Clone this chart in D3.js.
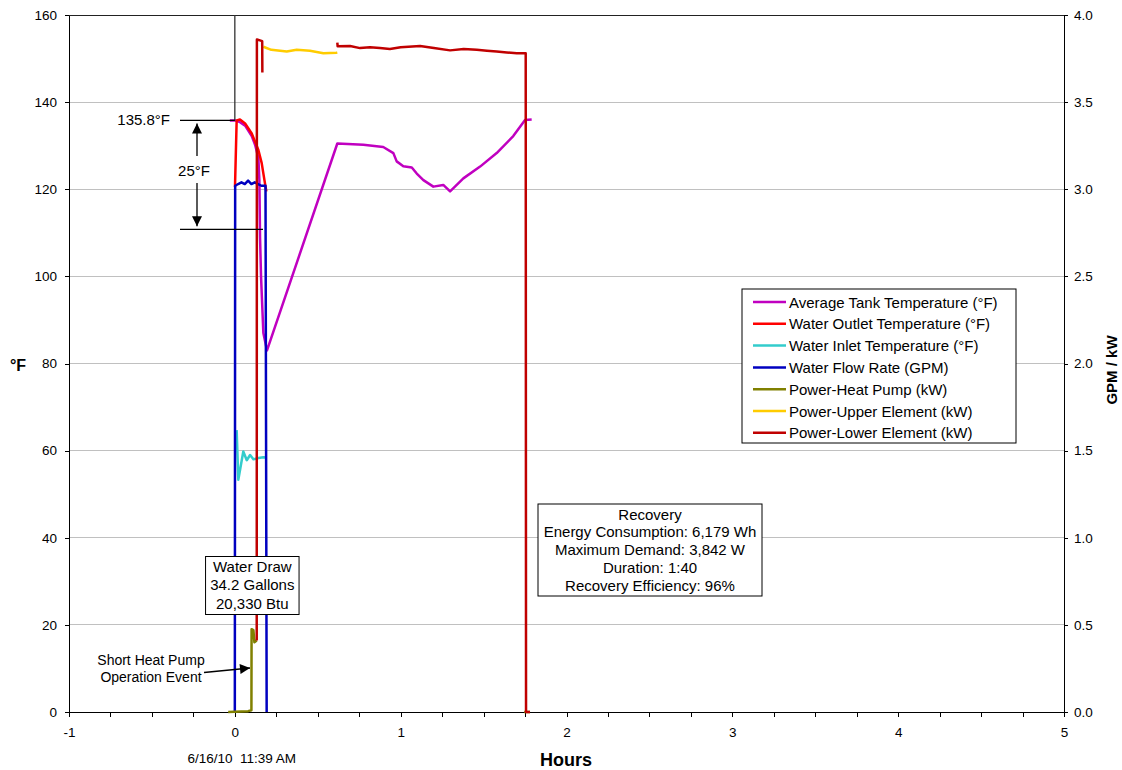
<!DOCTYPE html>
<html>
<head>
<meta charset="utf-8">
<script src="https://cdn.jsdelivr.net/npm/d3@7"></script>
<style>
body { margin: 0; background: #fff; }
svg text { font-family: Arial, "Liberation Sans", sans-serif; fill: #000; }
</style>
</head>
<body>
<div class="chart"></div>
<script>
// values: [hours, value], null = gap in the series
var avgTankTemp = [[-0.03,135.8],[0,135.8],[0.031,135.4],[0.062,134.6],[0.102,132.2],[0.122,130.2],[0.142,127.2],[0.148,122],[0.152,109],[0.158,100],[0.172,87],[0.194,83.0],
    [0.618,130.5],[0.775,130.2],[0.895,129.7],[0.956,128.3],[0.976,126.4],[1.016,125.3],[1.067,125.0],[1.097,123.6],[1.137,122.1],[1.197,120.6],[1.257,121.0],[1.298,119.5],
    [1.378,122.5],[1.479,125.2],[1.579,128.3],[1.679,132.2],[1.75,135.9],[1.79,136.0]];
var outletTemp = [[0.001,120.5],[0.011,135.8],[0.031,136.0],[0.062,135.1],[0.102,132.8],[0.142,129.0],[0.162,126.0],[0.178,122.2],[0.19,119.5]];
var inletTemp = [[0.011,64.7],[0.021,53.3],[0.051,59.8],[0.072,57.8],[0.092,59.0],[0.112,58.0],[0.142,58.3],[0.172,58.5],[0.188,58.4]];
var flowRate = [[0,0],[0.002,3.02],[0.02,3.03],[0.04,3.04],[0.06,3.03],[0.08,3.05],[0.10,3.03],[0.12,3.04],[0.14,3.03],[0.16,3.02],[0.185,3.02],[0.192,0]];
var heatPump = [[-0.04,0],[0.08,0.005],[0.1,0.01],[0.101,0.475],[0.112,0.47],[0.118,0.40],[0.132,0.41],null,[1.745,0],[1.78,0]];
var upperElement = [[0.172,3.818],[0.22,3.80],[0.313,3.79],[0.373,3.80],[0.453,3.795],[0.534,3.78],[0.614,3.784],[0.618,3.785]];
var lowerElement = [[0.132,0.41],[0.133,3.86],[0.165,3.85],[0.166,3.67],null,
    [0.618,3.842],[0.62,3.82],[0.695,3.822],[0.755,3.81],[0.815,3.815],[0.875,3.81],[0.935,3.805],[1.0,3.815],[1.117,3.822],[1.2,3.81],[1.298,3.797],[1.38,3.805],[1.459,3.80],[1.52,3.795],[1.579,3.79],[1.64,3.785],[1.70,3.78],[1.754,3.78],[1.756,0],[1.78,0]];

var seriesNames = ["Average Tank Temperature (\u00b0F)", "Water Outlet Temperature (\u00b0F)", "Water Inlet Temperature (\u00b0F)",
    "Water Flow Rate (GPM)", "Power-Heat Pump (kW)", "Power-Upper Element (kW)", "Power-Lower Element (kW)"];
var seriesColors = ["#c000c0", "#ff0000", "#33cccc", "#0000c0", "#808000", "#ffcc00", "#c00000"];

var xTicks = [-1, 0, 1, 2, 3, 4, 5];
var leftTicks = [0, 20, 40, 60, 80, 100, 120, 140, 160];
var rightTicks = [0, 0.5, 1, 1.5, 2, 2.5, 3, 3.5, 4];

var drawLines = ["Water Draw", "34.2 Gallons", "20,330 Btu"];
var recoveryLines = ["Recovery", "Energy Consumption: 6,179 Wh", "Maximum Demand: 3,842 W", "Duration: 1:40", "Recovery Efficiency: 96%"];
var heatPumpNote = ["Short Heat Pump", "Operation Event"];
var startTemp = 135.8;
var tempDrop = 25;

var w = 1122;
var h = 770;
var plotL = 69, plotR = 1064, plotT = 15, plotB = 712;

var svg = d3.select(".chart")
    .append("svg")
    .attr("width", w)
    .attr("height", h)
    .attr("style", "display:block;");

var x = d3.scaleLinear().domain([-1, 5]).range([plotL, plotR]);
var yL = d3.scaleLinear().domain([0, 160]).range([plotB, plotT]);
var yR = d3.scaleLinear().domain([0, 4]).range([plotB, plotT]);

// gridlines
svg.append("g").selectAll("line")
    .data(leftTicks.filter(function (d) { return d > 0; }))
    .enter().append("line")
    .attr("x1", plotL).attr("x2", plotR)
    .attr("y1", function (d) { return yL(d); })
    .attr("y2", function (d) { return yL(d); })
    .attr("stroke", function (d) { return d === 160 ? "#222" : "#c0c0c0"; })
    .attr("stroke-width", 1)
    .attr("shape-rendering", "crispEdges");

// axes
var xAxis = d3.axisBottom(x)
    .tickValues(d3.range(-1, 5.001, 0.25))
    .tickSize(5).tickSizeOuter(0).tickPadding(10)
    .tickFormat(function (d) { return xTicks.indexOf(d) >= 0 ? d : ""; });
var gx = svg.append("g").attr("transform", "translate(0," + plotB + ")").call(xAxis);

var gl = svg.append("g").attr("transform", "translate(" + plotL + ",0)")
    .call(d3.axisLeft(yL).tickValues(leftTicks).tickSize(4).tickSizeOuter(0).tickPadding(8));
var gr = svg.append("g").attr("transform", "translate(" + plotR + ",0)")
    .call(d3.axisRight(yR).tickValues(rightTicks).tickSize(4).tickSizeOuter(0).tickPadding(6).tickFormat(d3.format(".1f")));

[gx, gl, gr].forEach(function (g) {
    g.selectAll("path, line").attr("stroke", "#000").attr("shape-rendering", "crispEdges");
    g.selectAll("text").attr("font-size", 13.5).attr("font-family", "Arial, 'Liberation Sans', sans-serif").attr("fill", "#000");
});

// axis titles
svg.append("text").text("Hours").attr("x", 566).attr("y", 766)
    .attr("text-anchor", "middle").attr("font-size", 18).attr("font-weight", "bold");
svg.append("text").text("\u00b0F").attr("x", 18).attr("y", 371)
    .attr("text-anchor", "middle").attr("font-size", 16).attr("font-weight", "bold");
svg.append("text").text("GPM / kW")
    .attr("transform", "translate(1117,370) rotate(-90)")
    .attr("text-anchor", "middle").attr("font-size", 15).attr("font-weight", "bold");
svg.append("text").text("6/16/10\u00a0\u00a011:39 AM").attr("x", x(0) + 7).attr("y", 763)
    .attr("text-anchor", "middle").attr("font-size", 13.5);

// series
var series = [
    { data: avgTankTemp, y: yL },
    { data: outletTemp, y: yL },
    { data: inletTemp, y: yL },
    { data: flowRate, y: yR },
    { data: heatPump, y: yR },
    { data: upperElement, y: yR },
    { data: lowerElement, y: yR }
];

var lines = svg.append("g").attr("class", "lines");
series.forEach(function (s, i) {
    var line = d3.line()
        .defined(function (d) { return d !== null; })
        .x(function (d) { return x(d[0]); })
        .y(function (d) { return s.y(d[1]); });
    lines.append("path")
        .datum(s.data)
        .attr("d", line)
        .attr("fill", "none")
        .attr("stroke", seriesColors[i])
        .attr("stroke-width", 2.5)
        .attr("stroke-linejoin", "round");
});

// arrow heads
var defs = svg.append("defs");
defs.append("marker")
    .attr("id", "arrow")
    .attr("viewBox", "0 0 10 10")
    .attr("refX", 10).attr("refY", 5)
    .attr("markerUnits", "userSpaceOnUse")
    .attr("markerWidth", 13).attr("markerHeight", 10)
    .attr("orient", "auto")
    .append("path").attr("d", "M0,0 L10,5 L0,10 z").attr("fill", "#000");

// temperature drop annotation
var ann = svg.append("g");
ann.append("line").attr("x1", x(0)).attr("x2", x(0)).attr("y1", plotT).attr("y2", yL(startTemp))
    .attr("stroke", "#333").attr("stroke-width", 1.3);
ann.append("line").attr("x1", 180).attr("x2", x(0)).attr("y1", yL(startTemp)).attr("y2", yL(startTemp))
    .attr("stroke", "#000").attr("stroke-width", 1.3);
ann.append("line").attr("x1", 180).attr("x2", 263).attr("y1", yL(startTemp - tempDrop)).attr("y2", yL(startTemp - tempDrop))
    .attr("stroke", "#000").attr("stroke-width", 1.3);
ann.append("line").attr("x1", 197).attr("x2", 197).attr("y1", 156).attr("y2", yL(startTemp) + 3)
    .attr("stroke", "#000").attr("stroke-width", 1.3).attr("marker-end", "url(#arrow)");
ann.append("line").attr("x1", 197).attr("x2", 197).attr("y1", 183).attr("y2", yL(startTemp - tempDrop) - 3)
    .attr("stroke", "#000").attr("stroke-width", 1.3).attr("marker-end", "url(#arrow)");
ann.append("text").text(startTemp + "\u00b0F").attr("x", 170).attr("y", yL(startTemp) + 5)
    .attr("text-anchor", "end").attr("font-size", 15);
ann.append("text").text(tempDrop + "\u00b0F").attr("x", 194).attr("y", 176)
    .attr("text-anchor", "middle").attr("font-size", 15);

// heat pump note
ann.selectAll(".hp").data(heatPumpNote).enter().append("text")
    .attr("x", 151).attr("y", function (d, i) { return 665 + i * 16.5; })
    .attr("text-anchor", "middle").attr("font-size", 14)
    .text(function (d) { return d; });
ann.append("line").attr("x1", 204).attr("y1", 672.5).attr("x2", 250).attr("y2", 668)
    .attr("stroke", "#000").attr("stroke-width", 1.3).attr("marker-end", "url(#arrow)");

// text boxes
function textBox(cx, y0, bw, bh, rows, step) {
    var g = svg.append("g");
    g.append("rect").attr("x", cx - bw / 2).attr("y", y0).attr("width", bw).attr("height", bh)
        .attr("fill", "#fff").attr("stroke", "#000").attr("stroke-width", 1);
    g.selectAll("text").data(rows).enter().append("text")
        .attr("x", cx).attr("y", function (d, i) { return y0 + 15.5 + i * step; })
        .attr("text-anchor", "middle").attr("font-size", 15)
        .text(function (d) { return d; });
}
textBox(252.3, 556.5, 93.5, 58, drawLines, 18.3);
textBox(650, 504, 224, 92, recoveryLines, 17.8);

// legend
var legend = svg.append("g");
legend.append("rect").attr("x", 742).attr("y", 289).attr("width", 274).attr("height", 154)
    .attr("fill", "#fff").attr("stroke", "#000").attr("stroke-width", 1);
seriesNames.forEach(function (name, i) {
    var ly = 302 + i * 21.8;
    legend.append("line").attr("x1", 753).attr("x2", 786).attr("y1", ly).attr("y2", ly)
        .attr("stroke", seriesColors[i]).attr("stroke-width", 2.5);
    legend.append("text").text(name).attr("x", 789).attr("y", ly + 5.5).attr("font-size", 15);
});
</script>
</body>
</html>
